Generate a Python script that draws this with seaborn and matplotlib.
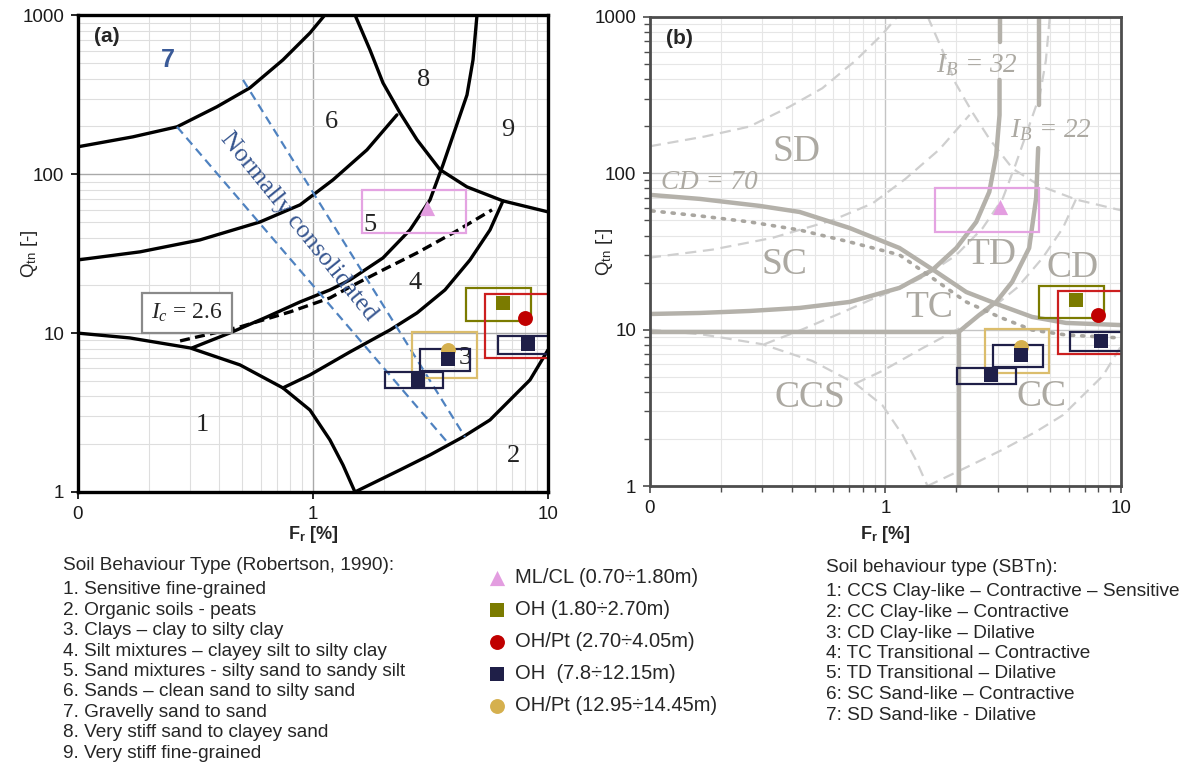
import numpy as np
import matplotlib
matplotlib.use("Agg")
import matplotlib.pyplot as plt
import seaborn as sns
from matplotlib.patches import Rectangle
from matplotlib.ticker import FixedLocator, FixedFormatter, NullFormatter, LogLocator

# ---------------- data ----------------
x_ticks = [0.1, 1, 10]
x_tick_labels = ["0", "1", "10"]
y_ticks = [1, 10, 100, 1000]
y_tick_labels = ["1", "10", "100", "1000"]

sample_labels = ["ML/CL (0.70÷1.80m)", "OH (1.80÷2.70m)", "OH/Pt (2.70÷4.05m)",
                 "OH  (7.8÷12.15m)", "OH/Pt (12.95÷14.45m)"]

# CPTu points (Fr [%], Qtn [-])
mlcl_fr = [3.05];              mlcl_qtn = [61]
oh1_fr = [6.45];               oh1_qtn = [15.5]
ohpt1_fr = [8.0];              ohpt1_qtn = [12.4]
oh2_fr = [8.2, 3.75, 2.8];     oh2_qtn = [8.5, 6.9, 5.1]
ohpt2_fr = [3.75];             ohpt2_qtn = [7.8]

# ranges (boxes): Fr min/max, Qtn min/max
mlcl_fr_rng = [(1.62, 4.5)];   mlcl_q_rng = [(42.4, 80)]
oh1_fr_rng = [(4.48, 8.43)];   oh1_q_rng = [(11.95, 19.1)]
ohpt1_fr_rng = [(5.4, 12.0)];  ohpt1_q_rng = [(6.95, 17.75)]
oh2_fr_rng = [(6.1, 12.0), (2.85, 4.66), (2.02, 3.58)]
oh2_q_rng = [(7.35, 9.6), (5.8, 8.0), (4.5, 5.7)]
ohpt2_fr_rng = [(2.64, 4.97)]; ohpt2_q_rng = [(5.25, 10.1)]

# Robertson (1990) SBT boundaries
r90_7_6_fr = [0.1, 0.171, 0.264, 0.390, 0.539, 0.745, 0.971, 1.125]
r90_7_6_qtn = [149, 172, 199, 266, 350, 525, 776, 1009]
r90_6_5_fr = [0.1, 0.184, 0.330, 0.595, 0.881, 1.216, 1.697, 2.277]
r90_6_5_qtn = [28.9, 32.5, 38.6, 50.1, 64.2, 92.2, 142.5, 236.6]
r90_top_fr = [1.509, 1.748, 1.986, 2.345, 2.771, 3.47, 4.522, 6.435, 10.0]
r90_top_qtn = [1009, 607, 376, 244, 165, 107, 83.3, 68.0, 58.0]
r90_5_4_fr = [0.306, 0.443, 0.637, 0.881, 1.181, 1.437, 1.986, 2.587, 3.147, 3.574, 4.021, 4.522, 4.797, 4.988]
r90_5_4_qtn = [8.07, 10.03, 12.65, 15.72, 18.71, 21.63, 29.76, 44.66, 69.0, 114.6, 190.4, 316, 525, 1009]
r90_zone1_fr = [0.1, 0.166, 0.300, 0.489, 0.745, 0.971, 1.181, 1.342, 1.509]
r90_zone1_qtn = [10.0, 9.33, 8.07, 6.31, 4.52, 3.28, 2.126, 1.479, 1.0]
r90_zone2_fr = [1.509, 2.345, 3.147, 4.347, 5.666, 6.692, 8.383, 10.0]
r90_zone2_qtn = [1.0, 1.376, 1.710, 2.220, 2.841, 3.635, 5.075, 7.84]
r90_4_3_fr = [0.745, 0.971, 1.437, 2.127, 2.771, 3.645, 4.657, 5.666, 6.435]
r90_4_3_qtn = [4.52, 5.455, 7.615, 10.47, 13.4, 18.71, 28.9, 44.66, 68.0]
ic26_fr = [0.272, 0.489, 0.798, 1.181, 1.437, 1.986, 2.771, 4.021, 5.778]
ic26_qtn = [8.93, 10.94, 13.6, 16.66, 19.54, 25.0, 32.0, 43.4, 59.7]
nc_lower_fr = [0.264, 3.717];  nc_lower_qtn = [199, 2.07]
nc_upper_fr = [0.504, 4.435];  nc_upper_qtn = [393, 2.22]

# Robertson (2016) SBTn boundaries
cd70_fr = [0.1, 0.163, 0.292, 0.432, 0.704, 1.146, 1.645, 2.204, 3.042, 4.196, 5.846, 10.0]
cd70_qtn = [72.8, 68.6, 61.9, 56.6, 44.7, 33.3, 23.4, 17.4, 14.4, 12.06, 11.04, 10.7]
ib32_fr = [3.05, 3.05, 2.953, 2.759, 2.43, 2.0, 1.582, 1.146, 0.704, 0.432, 0.265, 0.163, 0.1]
ib32_qtn = [396, 236, 131, 76, 48.9, 33.3, 24.1, 18.5, 15.04, 13.77, 13.17, 12.79, 12.6]
ib32_top_fr = [3.05, 3.05];    ib32_top_qtn = [1000, 693]
ib22_fr = [4.45, 4.363, 4.075, 3.452, 2.953, 2.502, 2.05]
ib22_qtn = [145, 69.6, 33.3, 20.2, 15.04, 12.42, 9.7]
ib22_top_fr = [4.49, 4.49];    ib22_top_qtn = [1000, 274]
ccs_fr = [0.1, 2.05, 2.05];    ccs_qtn = [9.7, 9.7, 1.0]
cdd_fr = [0.102, 0.163, 0.265, 0.432, 0.704, 1.146, 1.582, 2.204, 3.042, 4.196, 5.846, 10.0]
cdd_qtn = [57.5, 53.4, 48.9, 43.4, 36.4, 30.1, 21.4, 15.04, 12.06, 9.95, 9.25, 8.85]

zone_a_text = ["1", "2", "3", "4", "5", "6", "8", "9"]
zone_b_text = ["SD", "SC", "TC", "TD", "CD", "CCS", "CC"]

legend_a = ["Soil Behaviour Type (Robertson, 1990):",
            "1. Sensitive fine-grained",
            "2. Organic soils - peats",
            "3. Clays – clay to silty clay",
            "4. Silt mixtures – clayey silt to silty clay",
            "5. Sand mixtures - silty sand to sandy silt",
            "6. Sands – clean sand to silty sand",
            "7. Gravelly sand to sand",
            "8. Very stiff sand to clayey sand",
            "9. Very stiff fine-grained"]
legend_b = ["Soil behaviour type (SBTn):",
            "1: CCS Clay-like – Contractive – Sensitive",
            "2: CC Clay-like – Contractive",
            "3: CD Clay-like – Dilative",
            "4: TC Transitional – Contractive",
            "5: TD Transitional – Dilative",
            "6: SC Sand-like – Contractive",
            "7: SD Sand-like - Dilative"]

# ---------------- style ----------------
sns.set_theme(style="white")
plt.rcParams['font.family'] = ['Liberation Sans', 'DejaVu Sans']
plt.rcParams['mathtext.fontset'] = 'custom'
plt.rcParams['mathtext.rm'] = 'Liberation Sans'
plt.rcParams['mathtext.it'] = 'Liberation Serif:italic'
plt.rcParams['mathtext.bf'] = 'Liberation Sans:bold'

PINK, PINK_R = '#e39de0', '#e4a3e2'
OLIVE = '#7b7b00'
RED, RED_R = '#c00000', '#cc1f1f'
NAVY = '#1f1f48'
GOLD, GOLD_R = '#d5b04e', '#dbbd6c'
G_THICK = '#b4b1aa'
G_DASH = '#cfcfcf'
G_TEXT = '#aca9a2'
NC_LINE = '#4f82c0'
NC_TEXT = '#36558f'

fig = plt.figure(figsize=(11.9, 7.65), dpi=100)
ax_a = fig.add_axes([0.0655, 0.3569, 0.3950, 0.6229])
ax_b = fig.add_axes([0.5462, 0.3647, 0.3958, 0.6131])


def setup(ax, spine_color, spine_lw, minor_len, major_grid, minor_grid, xlab_y, ylab_x):
    ax.set_xscale('log')
    ax.set_yscale('log')
    ax.set_xlim(0.1, 10)
    ax.set_ylim(1, 1000)
    ax.xaxis.set_major_locator(FixedLocator(x_ticks))
    ax.xaxis.set_major_formatter(FixedFormatter(x_tick_labels))
    ax.yaxis.set_major_locator(FixedLocator(y_ticks))
    ax.yaxis.set_major_formatter(FixedFormatter(y_tick_labels))
    for axis in (ax.xaxis, ax.yaxis):
        axis.set_minor_locator(LogLocator(base=10, subs=np.arange(2, 10)))
        axis.set_minor_formatter(NullFormatter())
    ax.grid(True, which='major', color=major_grid, lw=1.0, zorder=0)
    ax.grid(True, which='minor', color=minor_grid, lw=0.8, zorder=0)
    ax.set_axisbelow(True)
    for s in ax.spines.values():
        s.set_color(spine_color)
        s.set_linewidth(spine_lw)
        s.set_zorder(10)
    ax.tick_params(which='major', bottom=True, left=True, direction='out', length=5,
                   width=1.2, color=spine_color, labelsize=13.5, labelcolor='#1a1a1a', pad=5)
    ax.tick_params(which='minor', bottom=True, left=True, direction='out', length=minor_len,
                   width=1.0, color=spine_color)
    ax.set_xlabel(r'$\mathbf{F}_\mathbf{r}$ [%]', fontsize=13, fontweight='bold')
    ax.set_ylabel(r'Q$_{\mathrm{tn}}$ [-]', fontsize=13.5)
    ax.xaxis.set_label_coords(0.5, xlab_y)
    ax.yaxis.set_label_coords(ylab_x, 0.5)


setup(ax_a, 'black', 2.4, 0, '#a9a9a9', '#dedede', -0.067, -0.081)
setup(ax_b, '#4d4d4d', 2.0, 4, '#c4c4c4', '#e6e6e6', -0.081, -0.074)


def line(ax, fr, q, **kw):
    sns.lineplot(x=fr, y=q, ax=ax, sort=False, estimator=None, legend=False, **kw)


# ---------- panel (a): Robertson 1990 ----------
for fr, q in [(r90_7_6_fr, r90_7_6_qtn), (r90_6_5_fr, r90_6_5_qtn), (r90_top_fr, r90_top_qtn),
              (r90_5_4_fr, r90_5_4_qtn), (r90_zone1_fr, r90_zone1_qtn),
              (r90_zone2_fr, r90_zone2_qtn), (r90_4_3_fr, r90_4_3_qtn)]:
    line(ax_a, fr, q, color='black', lw=2.4, zorder=3)
line(ax_a, ic26_fr, ic26_qtn, color='black', lw=2.4, linestyle=(0, (3, 1.6)), zorder=3)
line(ax_a, nc_lower_fr, nc_lower_qtn, color=NC_LINE, lw=1.6, linestyle=(0, (4, 2.5)), zorder=3)
line(ax_a, nc_upper_fr, nc_upper_qtn, color=NC_LINE, lw=1.6, linestyle=(0, (4, 2.5)), zorder=3)

ax_a.text(0.87, 47, "Normally consolidated", rotation=-51, ha='center', va='center',
          family='Liberation Serif', fontsize=18.5, color=NC_TEXT, zorder=4)
ax_a.text(0.291, 13.4, r"$I_c$ = 2.6", ha='center', va='center', family='Liberation Serif',
          fontsize=17, zorder=4,
          bbox=dict(boxstyle='square,pad=0.38', fc='white', ec='#8a8a8a', lw=1.6))
zone_a_pos = [(0.337, 2.64), (7.10, 1.686), (4.435, 6.98), (2.716, 20.7), (1.748, 48.0),
              (1.193, 213.8), (2.967, 393), (6.757, 190.5)]
for t, (px, py) in zip(zone_a_text, zone_a_pos):
    ax_a.text(px, py, t, ha='center', va='center', family='Liberation Serif',
              fontsize=19, color='#222222', zorder=4)
ax_a.text(0.2415, 525, "7", ha='center', va='center', fontsize=18, fontweight='bold',
          color='#3a5a98', zorder=4)
ax_a.text(0.035, 0.955, "(a)", transform=ax_a.transAxes, fontsize=15, fontweight='bold',
          ha='left', va='center', zorder=6)

# ---------- panel (b): Robertson 2016 ----------
for fr, q in [(r90_7_6_fr, r90_7_6_qtn), (r90_6_5_fr, r90_6_5_qtn), (r90_top_fr, r90_top_qtn),
              (r90_5_4_fr, r90_5_4_qtn), (r90_zone1_fr, r90_zone1_qtn),
              (r90_zone2_fr, r90_zone2_qtn), (r90_4_3_fr, r90_4_3_qtn)]:
    line(ax_b, fr, q, color=G_DASH, lw=1.6, linestyle=(0, (5, 3)), zorder=2)
for fr, q in [(cd70_fr, cd70_qtn), (ib32_fr, ib32_qtn), (ib32_top_fr, ib32_top_qtn),
              (ib22_fr, ib22_qtn), (ib22_top_fr, ib22_top_qtn), (ccs_fr, ccs_qtn)]:
    line(ax_b, fr, q, color=G_THICK, lw=3.2, zorder=3)
line(ax_b, cdd_fr, cdd_qtn, color='#a9a6a0', lw=2.6, linestyle=(0, (0.6, 2.2)),
     dash_capstyle='round', zorder=3)

zone_b_pos = [(0.42, 137), (0.373, 25.9), (1.536, 13.8), (2.81, 30), (6.2, 24.8),
              (0.4766, 3.66), (4.58, 3.71)]
for t, (px, py) in zip(zone_b_text, zone_b_pos):
    ax_b.text(px, py, t, ha='center', va='center', family='Liberation Serif',
              fontsize=27, color=G_TEXT, zorder=4)
ax_b.text(0.1795, 86.8, "CD = 70", ha='center', va='center', family='Liberation Serif',
          fontstyle='italic', fontsize=19.5, color=G_TEXT, zorder=4)
ax_b.text(2.455, 494, r"$I_B$ = 32", ha='center', va='center', family='Liberation Serif',
          fontstyle='italic', fontsize=19.5, color=G_TEXT, zorder=4)
ax_b.text(5.05, 189.6, r"$I_B$ = 22", ha='center', va='center', family='Liberation Serif',
          fontstyle='italic', fontsize=19.5, color=G_TEXT, zorder=4)
ax_b.text(0.035, 0.955, "(b)", transform=ax_b.transAxes, fontsize=15, fontweight='bold',
          ha='left', va='center', zorder=6)

# ---------- samples on both panels ----------
handles = {}
for ax in (ax_a, ax_b):
    boxes = [(mlcl_fr_rng, mlcl_q_rng, PINK_R), (oh1_fr_rng, oh1_q_rng, OLIVE),
             (ohpt1_fr_rng, ohpt1_q_rng, RED_R), (ohpt2_fr_rng, ohpt2_q_rng, GOLD_R),
             (oh2_fr_rng, oh2_q_rng, NAVY)]
    for fr_r, q_r, col in boxes:
        for (f0, f1), (q0, q1) in zip(fr_r, q_r):
            ax.add_patch(Rectangle((f0, q0), f1 - f0, q1 - q0, fill=False, ec=col,
                                   lw=1.6, zorder=5))
    series = [(mlcl_fr, mlcl_qtn, PINK, '^', 120, 0),
              (oh1_fr, oh1_qtn, OLIVE, 's', 105, 1),
              (ohpt1_fr, ohpt1_qtn, RED, 'o', 115, 2),
              (ohpt2_fr, ohpt2_qtn, GOLD, 'o', 115, 4),
              (oh2_fr, oh2_qtn, NAVY, 's', 105, 3)]
    for fr, q, col, mk, s, idx in series:
        sns.scatterplot(x=fr, y=q, ax=ax, color=col, marker=mk, s=s, linewidth=0,
                        zorder=7, legend=False)
        handles[idx] = ax.collections[-1]
    if ax.get_legend() is not None:
        ax.get_legend().remove()

leg = fig.legend([handles[i] for i in range(5)], sample_labels, loc='upper left',
                 bbox_to_anchor=(469 / 1190, 1 - 550 / 765), frameon=False, fontsize=14.5,
                 handlelength=1.0, handletextpad=0.4, labelspacing=0.65, borderpad=0.4)

# ---------- text legends ----------
FS_TXT = 13.7
fig.text(63 / 1190, 1 - 566 / 765, legend_a[0], fontsize=FS_TXT, ha='left', va='center')
for i, t in enumerate(legend_a[1:]):
    fig.text(63 / 1190, 1 - (590 + 20.4 * i) / 765, t, fontsize=FS_TXT, ha='left', va='center')
fig.text(826 / 1190, 1 - 567 / 765, legend_b[0], fontsize=FS_TXT, ha='left', va='center')
for i, t in enumerate(legend_b[1:]):
    fig.text(826 / 1190, 1 - (592 + 20.5 * i) / 765, t, fontsize=FS_TXT, ha='left', va='center')

fig.savefig("out.png", dpi=100)
